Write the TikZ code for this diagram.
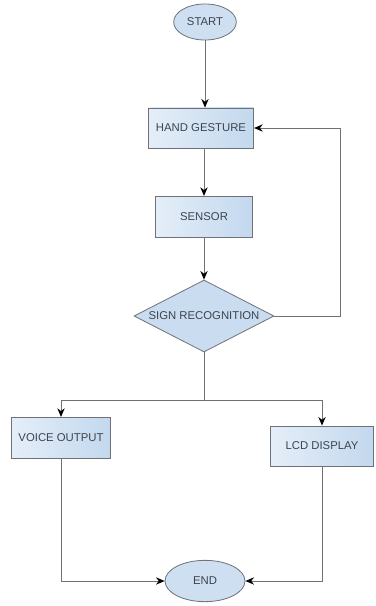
\documentclass[tikz,border=0pt]{standalone}
\usepackage{fontspec}
\setmainfont{Liberation Sans}
\usetikzlibrary{arrows.meta,shapes.geometric}

\definecolor{boxleft}{HTML}{E4EEF8}
\definecolor{boxright}{HTML}{C3D8EE}
\definecolor{edgegray}{HTML}{6E7278}
\definecolor{textgray}{HTML}{3C4450}

\tikzset{
  procbox/.style={draw=edgegray, line width=0.6pt, left color=boxleft, right color=boxright,
    minimum width=#1, minimum height=31pt, inner sep=0pt, font=\fontsize{8.5}{9}\selectfont, text=textgray},
  procbox/.default=74pt,
  termnode/.style={ellipse, draw=edgegray, line width=0.6pt, fill=boxright!70!boxleft,
    inner sep=0pt, font=\fontsize{8.5}{9}\selectfont, text=textgray},
  decnode/.style={diamond, shape aspect=2, draw=edgegray, line width=0.6pt, fill=boxright!80!boxleft,
    minimum width=105pt, minimum height=54pt, inner sep=0pt, font=\fontsize{8.5}{9}\selectfont, text=textgray},
}

\begin{document}
\begin{tikzpicture}[x=0.75pt, y=-0.75pt, line width=0.7pt, color=edgegray, >={Stealth[length=6.5pt,width=5.5pt,color=black]}]
\useasboundingbox (0,0) rectangle (375,606);

% nodes
\node [termnode, minimum width=47pt, minimum height=27pt] (start) at (205,22) {START};
\node [procbox=79pt, minimum height=30pt] (hand) at (201,128) {HAND GESTURE};
\node [procbox=73pt] (sensor) at (204,217) {SENSOR};
\node [decnode] (recog) at (204,316) {SIGN RECOGNITION};
\node [procbox=74pt] (voice) at (61,438) {VOICE OUTPUT};
\node [procbox=77pt, minimum height=30pt] (lcd) at (322,446) {LCD DISPLAY};
\node [termnode, minimum width=60pt, minimum height=31pt] (end) at (205,581) {END};

\coordinate (loop) at (340,128);
\coordinate (split) at (204,400);

% connectors
\draw [->] (start.south) -- (start.south |- hand.north);
\draw [->] (hand.south -| sensor) -- (sensor.north);
\draw [->] (sensor.south) -- (recog.north);
\draw [->] (recog.east) -| (loop) -- (hand.east);
\draw (recog.south) -- (split);
\draw [->] (split) -| (voice.north);
\draw [->] (split) -| (lcd.north);
\draw [->] (voice.south) |- (end.west);
\draw [->] (lcd.south) |- (end.east);
\end{tikzpicture}
\end{document}
